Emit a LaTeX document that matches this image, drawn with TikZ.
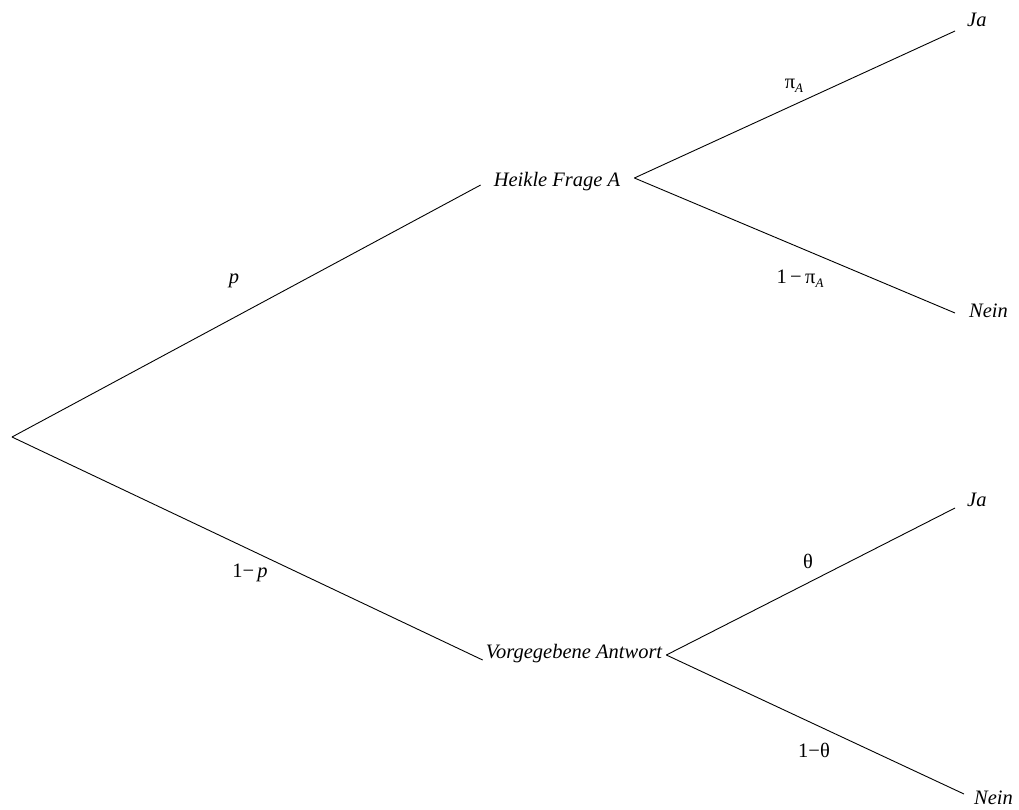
\documentclass[tikz,border=0pt]{standalone}
\usepackage{fontspec}
\setmainfont{Liberation Serif}
\usetikzlibrary{calc}
\tikzset{
 lbl/.style={font=\fontsize{20.5}{24}\selectfont\itshape, inner sep=0pt},
 plbl/.style={font=\fontsize{20.5}{24}\selectfont, inner sep=0pt},
 branch/.style={line width=0.9pt, black},
}
\newcommand{\subA}{\raisebox{-0.45ex}{\fontsize{13}{15}\selectfont\itshape A}}
\begin{document}
\begin{tikzpicture}[x=1pt,y=-1pt]
\useasboundingbox (0,0) rectangle (1019,809);
\coordinate (root) at (12,437);
\node[lbl,anchor=base] (hf) at (557,186) {Heikle Frage A};
\node[lbl,anchor=base] (va) at (574,658) {Vorgegebene Antwort};
\node[lbl,anchor=base west] (ja1) at (967,26) {Ja};
\node[lbl,anchor=base west] (nein1) at (969,317) {Nein};
\node[lbl,anchor=base west] (ja2) at (967,506) {Ja};
\node[lbl,anchor=base west] (nein2) at (974,804) {Nein};
\coordinate (hfr) at ($(hf.base east)+(14,-8)$);
\coordinate (var) at ($(va.base east)+(4,-3)$);
\draw[branch] (root) -- ($(hf.base west)+(-13,-1)$);
\draw[branch] (root) -- ($(va.base west)+(-3,2)$);
\draw[branch] (hfr) -- ($(ja1.base west)+(-12,5)$);
\draw[branch] (hfr) -- ($(nein1.base west)+(-14,-4)$);
\draw[branch] (var) -- ($(ja2.base west)+(-12,2)$);
\draw[branch] (var) -- ($(nein2.base west)+(-10,-10)$);
\node[lbl,anchor=base] (lp) at (234,283) {p};
\node[plbl,anchor=base] (l1p) at (250,577) {1−\,\textit{p}};
\node[plbl,anchor=base] (lpa) at (794,88.5) {π\subA};
\node[plbl,anchor=base] (l1pa) at (800,283) {1\,−\,π\subA};
\node[plbl,anchor=base] (lth) at (808,568) {θ};
\node[plbl,anchor=base] (l1th) at (814,757) {1−θ};
\end{tikzpicture}
\end{document}
